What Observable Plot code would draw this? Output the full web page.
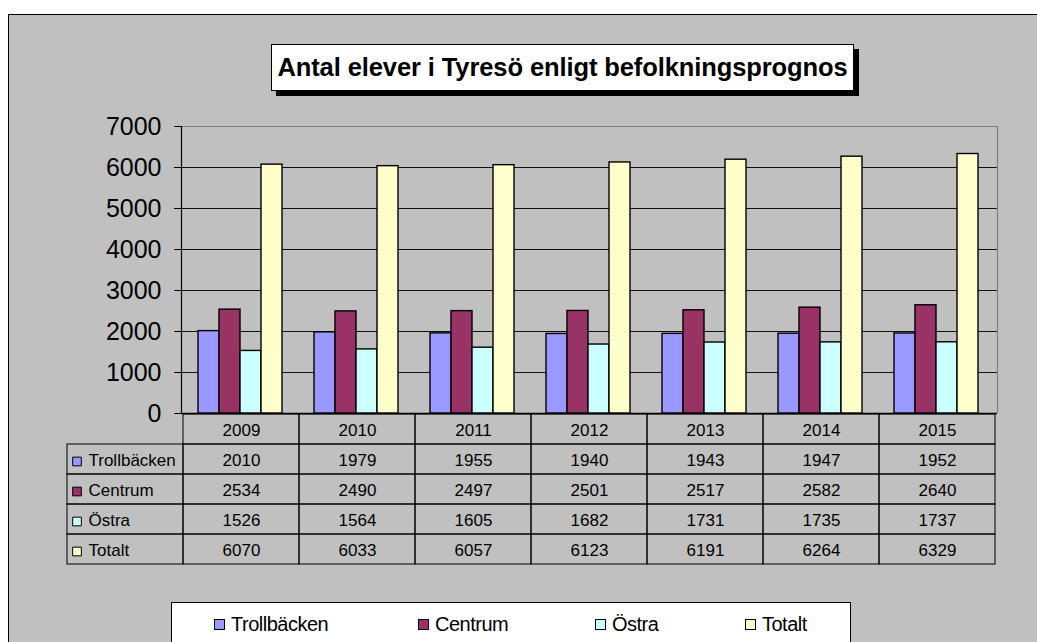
<!DOCTYPE html>
<html>
<head>
<meta charset="utf-8">
<script src="https://cdn.jsdelivr.net/npm/d3@7"></script>
<script src="https://cdn.jsdelivr.net/npm/@observablehq/plot@0.6"></script>
<style>
  html, body { margin: 0; padding: 0; background: #ffffff; }
  #page { position: relative; width: 1037px; height: 642px; overflow: hidden; font-family: "Liberation Sans", Arial, sans-serif; }
  #frame { position: absolute; left: 8px; top: 14px; width: 1040px; height: 640px; background: #c0c0c0; border: 1px solid #000; }
  .layer { position: absolute; left: 0; }
  #title { position: absolute; left: 271px; top: 44px; width: 581px; height: 45px; background: #fff; border: 1px solid #000;
           box-shadow: 5px 5px 0 #000; font-weight: bold; font-size: 25.5px; letter-spacing: -0.1px; line-height: 45px; text-align: center; color: #000; white-space: nowrap; }
  #legend { position: absolute; left: 171px; top: 602px; width: 678px; height: 60px; background: #fff; border: 1px solid #000; }
  .lg-item { position: absolute; top: 10px; height: 22px; display: flex; align-items: center; font-size: 20px; letter-spacing: -0.5px; color: #000; }
  .lg-sw { width: 9px; height: 9px; border: 1px solid #000; margin-right: 6px; }
</style>
</head>
<body>
<div id="page">
  <div id="frame"></div>
  <div id="layerA" class="layer" style="top:0"></div>
  <div id="layerB" class="layer" style="top:0"></div>
  <div id="layerC" class="layer" style="top:412px"></div>
  <div id="title"></div>
  <div id="legend"></div>
</div>
<script>
// ---- data ----
const years = ["2009", "2010", "2011", "2012", "2013", "2014", "2015"];
const seriesNames = ["Trollbäcken", "Centrum", "Östra", "Totalt"];
const trollbacken = [2010, 1979, 1955, 1940, 1943, 1947, 1952];
const centrum = [2534, 2490, 2497, 2501, 2517, 2582, 2640];
const ostra = [1526, 1564, 1605, 1682, 1731, 1735, 1737];
const totalt = [6070, 6033, 6057, 6123, 6191, 6264, 6329];
const seriesColors = ["#9999FF", "#993366", "#CCFFFF", "#FFFFCC"];
const yTicks = [0, 1000, 2000, 3000, 4000, 5000, 6000, 7000];
const chartTitle = "Antal elever i Tyresö enligt befolkningsprognos";

const seriesValues = [trollbacken, centrum, ostra, totalt];
const rows = years.flatMap((yr, i) =>
  seriesNames.map((s, j) => ({year: yr, series: s, value: seriesValues[j][i]})));

const font = '"Liberation Sans", Arial, sans-serif';
const W = 1037;

// ---- layer A: axis, grid, plot-area border ----
const plotA = Plot.plot({
  width: W, height: 415,
  marginLeft: 181, marginRight: 40, marginTop: 126, marginBottom: 2,
  style: {background: "transparent", fontFamily: font, fontSize: "25px", color: "#000", overflow: "visible"},
  x: {domain: [0, years.length], axis: null},
  y: {domain: [0, 7000], ticks: yTicks, tickSize: 7, tickPadding: 13, tickFormat: d => String(d), label: null},
  marks: [
    Plot.ruleY(yTicks.filter(t => t > 0 && t < 7000), {stroke: "#111", strokeWidth: 1}),
    Plot.ruleY([7000], {stroke: "#808080", strokeWidth: 1.2}),
    Plot.ruleX([years.length], {stroke: "#808080", strokeWidth: 1.2}),
    Plot.ruleX([0], {stroke: "#000", strokeWidth: 1.2}),
    Plot.ruleY([0], {stroke: "#000", strokeWidth: 1.5})
  ]
});
document.getElementById("layerA").appendChild(plotA);

// ---- layer B: grouped bars ----
const plotB = Plot.plot({
  width: W, height: 415,
  marginLeft: 181, marginRight: 40, marginTop: 126, marginBottom: 2,
  style: {background: "transparent", fontFamily: font, overflow: "visible"},
  fx: {domain: years, padding: 0, axis: null},
  x: {domain: seriesNames, paddingInner: 0, paddingOuter: 0.75, align: 0.48, axis: null},
  y: {domain: [0, 7000], axis: null},
  color: {domain: seriesNames, range: seriesColors},
  marks: [
    Plot.barY(rows, {fx: "year", x: "series", y: "value", fill: "series", stroke: "#000", strokeWidth: 1.4})
  ]
});
document.getElementById("layerB").appendChild(plotB);

// ---- layer C: data table ----
const labelCol = "label";
const headerRow = "header";
const plotC = Plot.plot({
  width: W, height: 155,
  marginLeft: 64, marginRight: 40, marginTop: 1, marginBottom: 2,
  style: {background: "transparent", fontFamily: font, fontSize: "17px", color: "#000", overflow: "visible"},
  x: {domain: [labelCol, ...years], padding: 0, axis: null},
  y: {domain: [headerRow, ...seriesNames], padding: 0, axis: null},
  color: {domain: seriesNames, range: seriesColors},
  marks: [
    Plot.cell(years, {x: d => d, y: () => headerRow, fill: "none", stroke: "#000", strokeWidth: 1}),
    Plot.cell(rows, {x: "year", y: "series", fill: "none", stroke: "#000", strokeWidth: 1}),
    Plot.cell(seriesNames, {x: () => labelCol, y: d => d, fill: "none", stroke: "#000", strokeWidth: 1}),
    Plot.text(years, {x: d => d, y: () => headerRow, text: d => d, fill: "#000", dy: 1}),
    Plot.text(rows, {x: "year", y: "series", text: d => String(d.value), fill: "#000", dy: 1}),
    Plot.dot(seriesNames, {x: () => labelCol, y: d => d, symbol: "square", r: 4.9, fill: d => d, stroke: "#000", strokeWidth: 1, dx: -48.5, dy: 2}),
    Plot.text(seriesNames, {x: () => labelCol, y: d => d, text: d => d, textAnchor: "start", fill: "#000", dx: -37, dy: 1})
  ]
});
document.getElementById("layerC").appendChild(plotC);

// ---- title ----
document.getElementById("title").textContent = chartTitle;

// ---- legend ----
const legendLeft = [42, 246, 423, 573];
const legend = document.getElementById("legend");
seriesNames.forEach((s, i) => {
  const item = document.createElement("div");
  item.className = "lg-item";
  item.style.left = legendLeft[i] + "px";
  const sw = document.createElement("div");
  sw.className = "lg-sw";
  sw.style.background = seriesColors[i];
  const tx = document.createElement("span");
  tx.textContent = s;
  item.appendChild(sw);
  item.appendChild(tx);
  legend.appendChild(item);
});
</script>
</body>
</html>
